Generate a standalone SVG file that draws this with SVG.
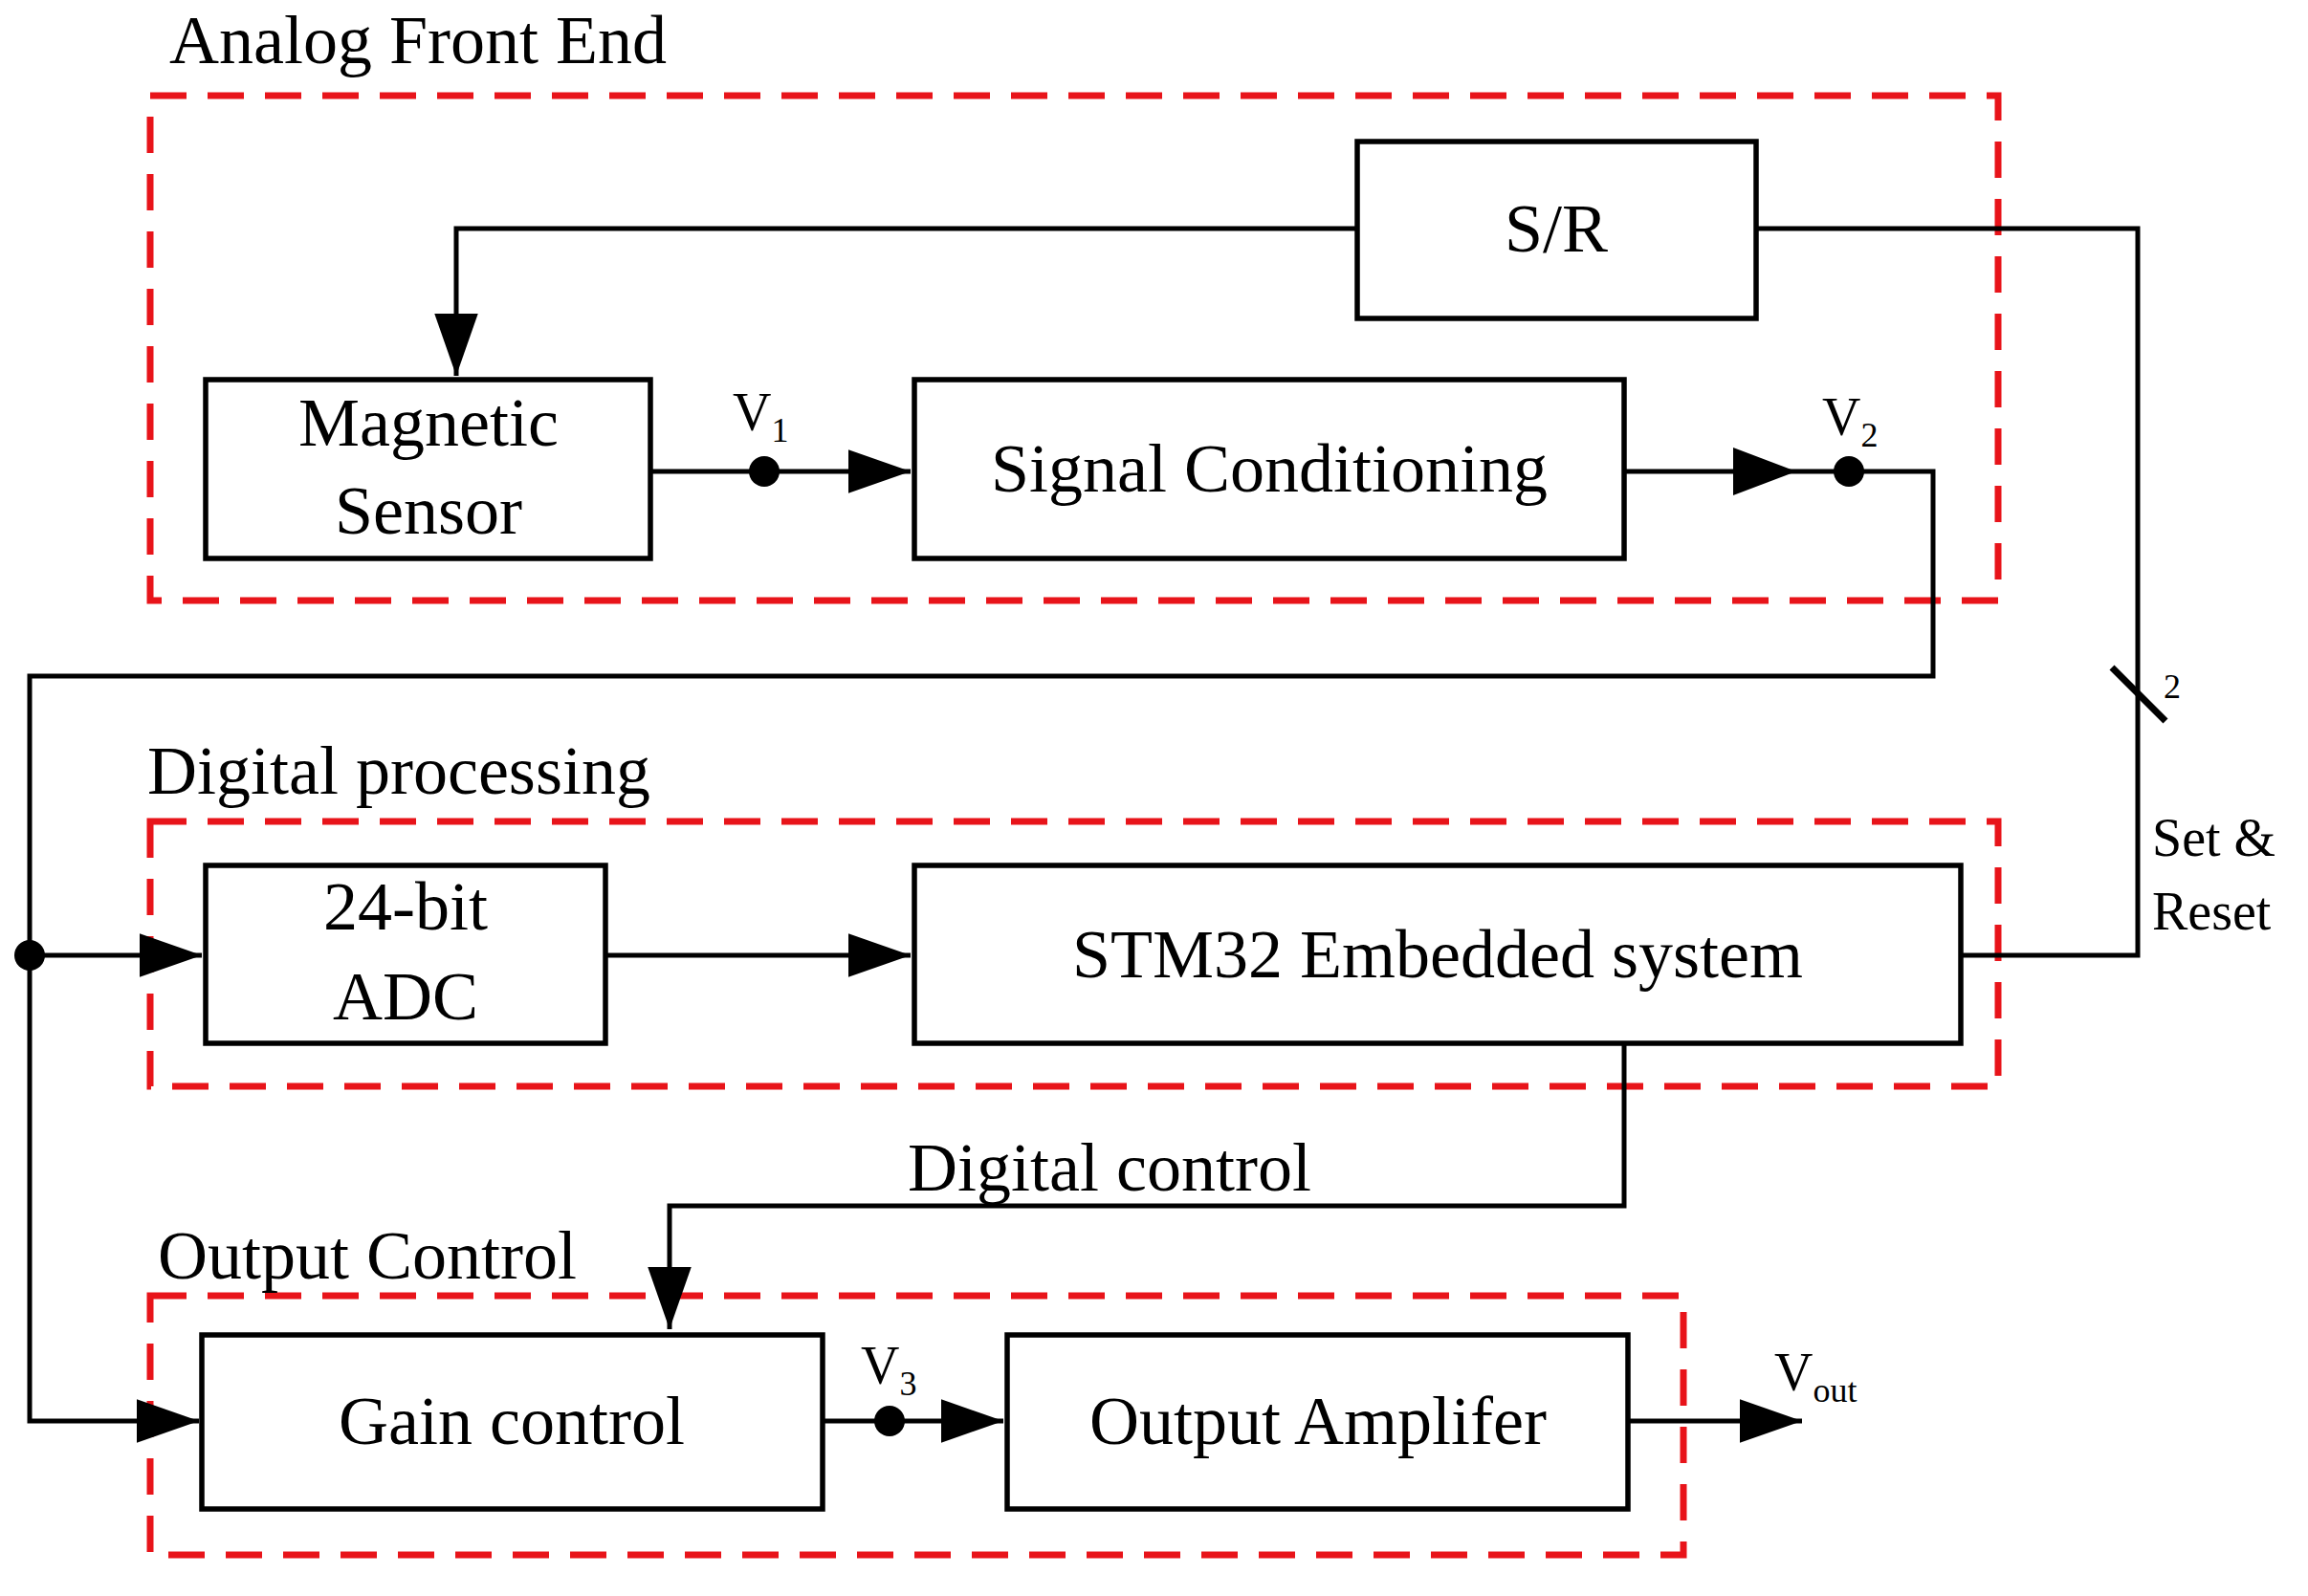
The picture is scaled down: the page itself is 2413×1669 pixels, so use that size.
<svg xmlns="http://www.w3.org/2000/svg" width="2413" height="1669" viewBox="0 0 2413 1669">
<style>
.b{fill:#fff;stroke:#000;stroke-width:5.5}
.g{fill:none;stroke:#e8141a;stroke-width:7;stroke-dasharray:38 22}
.w{fill:none;stroke:#000;stroke-width:5}
text{font-family:"Liberation Serif",serif;fill:#000}
.t{font-size:72px;text-anchor:middle}
.h{font-size:72px}
.s{font-size:56px}
</style>
<defs>
<marker id="A" viewBox="0 0 10 10" refX="10" refY="5" markerWidth="13" markerHeight="13" orient="auto"><path d="M0,1.5L10,5L0,8.5z"/></marker></defs>
<g id="groups">
<rect class="g" x="157" y="100" width="1932" height="528"/>
<text class="h" x="177" y="66">Analog Front End</text>
<rect class="g" x="157" y="859" width="1932" height="277"/>
<text class="h" x="154" y="830">Digital processing</text>
<rect class="g" x="157" y="1355" width="1603" height="271"/>
<text class="h" x="165" y="1337">Output Control</text>
</g>
<g id="connectors">
<path class="w" d="M1419,239H477V393" marker-end="url(#A)"/>
<path class="w" d="M1836,239H2235V999H2050"/>
<line class="w" style="stroke-width:7" x1="2208" y1="698" x2="2264" y2="754"/>
<text x="2262" y="730" style="font-size:36px">2</text>
<text class="s" x="2250" y="895">Set &amp;</text>
<text class="s" x="2250" y="972">Reset</text>
<path class="w" d="M680,493H952" marker-end="url(#A)"/>
<circle cx="799" cy="493" r="16"/>
<text class="s" x="766" y="450">V<tspan font-size="36" dy="12">1</tspan></text>
<path class="w" d="M1698,493H1878"/>
<path d="M1812,468L1878,493L1812,518z"/>
<path class="w" d="M1878,493H2021V707H31V1486H208" marker-end="url(#A)"/>
<circle cx="1933" cy="493" r="16"/>
<text class="s" x="1905" y="455">V<tspan font-size="36" dy="12">2</tspan></text>
<circle cx="31" cy="999" r="16"/>
<path class="w" d="M31,999H211" marker-end="url(#A)"/>
<path class="w" d="M633,999H952" marker-end="url(#A)"/>
<path class="w" d="M1698,1091V1261H700V1390" marker-end="url(#A)"/>
<text class="t" x="1160" y="1245">Digital control</text>
<path class="w" d="M860,1486H1049" marker-end="url(#A)"/>
<circle cx="930" cy="1486" r="16"/>
<text class="s" x="900" y="1447">V<tspan font-size="36" dy="12">3</tspan></text>
<path class="w" d="M1702,1486H1884" marker-end="url(#A)"/>
<text class="s" x="1855" y="1454">V<tspan font-size="36" dy="12">out</tspan></text>
</g>
<g id="sr"><rect class="b" x="1419" y="148" width="417" height="185"/><text class="t" x="1627" y="263">S/R</text></g>
<g id="ms"><rect class="b" x="215" y="397" width="465" height="187"/><text class="t" x="448" y="466">Magnetic</text><text class="t" x="448" y="558">Sensor</text></g>
<g id="sc"><rect class="b" x="956" y="397" width="742" height="187"/><text class="t" x="1327" y="514">Signal Conditioning</text></g>
<g id="adc"><rect class="b" x="215" y="905" width="418" height="186"/><text class="t" x="424" y="972">24-bit</text><text class="t" x="424" y="1066">ADC</text></g>
<g id="stm"><rect class="b" x="956" y="905" width="1094" height="186"/><text class="t" x="1503" y="1022">STM32 Embedded system</text></g>
<g id="gc"><rect class="b" x="211" y="1396" width="649" height="182"/><text class="t" x="535" y="1510">Gain control</text></g>
<g id="oa"><rect class="b" x="1053" y="1396" width="649" height="182"/><text class="t" x="1378" y="1510">Output Amplifer</text></g>
</svg>
